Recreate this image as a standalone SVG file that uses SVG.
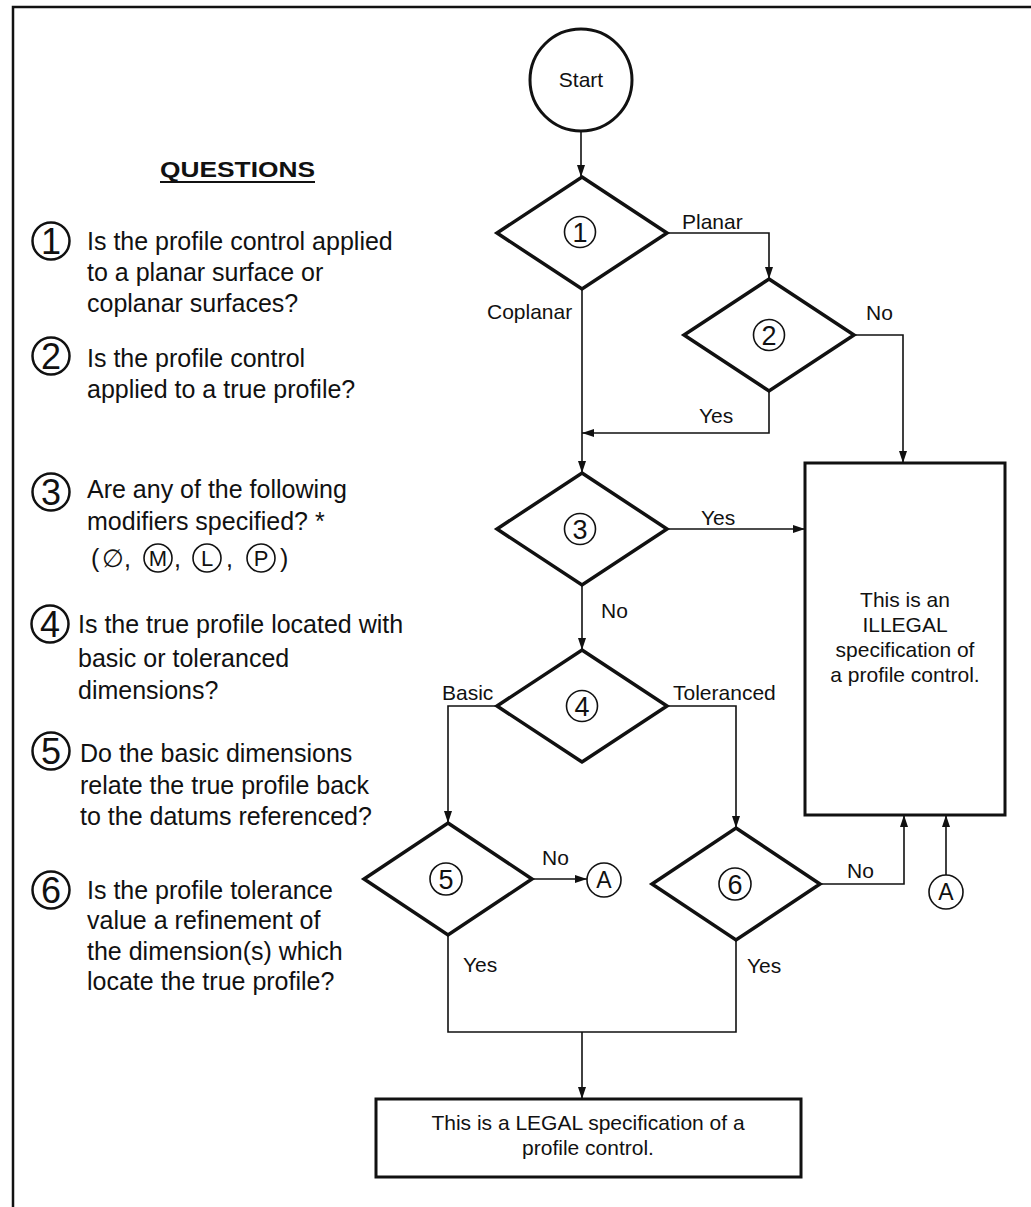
<svg xmlns="http://www.w3.org/2000/svg" width="1031" height="1207" viewBox="0 0 1031 1207">
<style>
text{font-family:"Liberation Sans",Arial,sans-serif;fill:#111}
.q{font-size:25px}
.lbl{font-size:21px}
.dg{font-size:36px;text-anchor:middle}
.sd{font-size:27px;text-anchor:middle}
.box{fill:#fff;stroke:#111;stroke-width:3}
.dia{fill:#fff;stroke:#111;stroke-width:3.5;stroke-linejoin:miter}
.qc{fill:none;stroke:#111;stroke-width:2.5}
.tc{fill:none;stroke:#111;stroke-width:1.6}
.con{fill:none;stroke:#111;stroke-width:1.6}
.mid{text-anchor:middle}
</style>
<defs>
<marker id="arr" viewBox="0 0 12 8" refX="12" refY="4" markerWidth="12" markerHeight="8" orient="auto" markerUnits="userSpaceOnUse">
<path d="M0,0 L12,4 L0,8 z" fill="#111"/>
</marker>
</defs>
<rect width="1031" height="1207" fill="#fff"/>
<g id="frame">
<path d="M13,1207 V7 H1031" fill="none" stroke="#111" stroke-width="2.5"/>
</g>
<g id="questions">
<text x="160" y="177" font-size="22" font-weight="bold" textLength="155" lengthAdjust="spacingAndGlyphs">QUESTIONS</text>
<line x1="160" y1="182" x2="315" y2="182" stroke="#111" stroke-width="2"/>
<g id="q1">
<circle class="qc" cx="51" cy="241" r="18.5"/><text class="dg" x="51" y="254">1</text>
<text class="q" x="87" y="250">Is the profile control applied</text>
<text class="q" x="87" y="281">to a planar surface or</text>
<text class="q" x="87" y="312">coplanar surfaces?</text>
</g>
<g id="q2">
<circle class="qc" cx="51" cy="356" r="18.5"/><text class="dg" x="51" y="369">2</text>
<text class="q" x="87" y="367">Is the profile control</text>
<text class="q" x="87" y="398">applied to a true profile?</text>
</g>
<g id="q3">
<circle class="qc" cx="51" cy="492" r="18.5"/><text class="dg" x="51" y="505">3</text>
<text class="q" x="87" y="498">Are any of the following</text>
<text class="q" x="87" y="530">modifiers specified? *</text>
<text class="q" x="91" y="567">(</text>
<text class="q" x="102" y="567">∅,</text>
<circle class="tc" cx="158" cy="558" r="14"/><text x="158" y="566" font-size="22" class="mid">M</text>
<text class="q" x="174" y="567">,</text>
<circle class="tc" cx="207" cy="558" r="14"/><text x="207" y="566" font-size="22" class="mid">L</text>
<text class="q" x="226" y="567">,</text>
<circle class="tc" cx="261" cy="558" r="14"/><text x="261" y="566" font-size="22" class="mid">P</text>
<text class="q" x="280" y="567">)</text>
</g>
<g id="q4">
<circle class="qc" cx="50" cy="624" r="18.5"/><text class="dg" x="50" y="637">4</text>
<text class="q" x="78" y="633">Is the true profile located with</text>
<text class="q" x="78" y="667">basic or toleranced</text>
<text class="q" x="78" y="699">dimensions?</text>
</g>
<g id="q5">
<circle class="qc" cx="51" cy="751" r="18.5"/><text class="dg" x="51" y="764">5</text>
<text class="q" x="80" y="762">Do the basic dimensions</text>
<text class="q" x="80" y="794">relate the true profile back</text>
<text class="q" x="80" y="825">to the datums referenced?</text>
</g>
<g id="q6">
<circle class="qc" cx="51" cy="890" r="18.5"/><text class="dg" x="51" y="903">6</text>
<text class="q" x="87" y="899">Is the profile tolerance</text>
<text class="q" x="87" y="929">value a refinement of</text>
<text class="q" x="87" y="960">the dimension(s) which</text>
<text class="q" x="87" y="990">locate the true profile?</text>
</g>
</g>
<g id="connectors">
<path class="con" d="M581,131 V177" marker-end="url(#arr)"/>
<path class="con" d="M667,233 H769 V279" marker-end="url(#arr)"/>
<path class="con" d="M854,335 H903 V463" marker-end="url(#arr)"/>
<path class="con" d="M769,391 V433 H582" marker-end="url(#arr)"/>
<path class="con" d="M582,289 V473" marker-end="url(#arr)"/>
<path class="con" d="M667,529 H805" marker-end="url(#arr)"/>
<path class="con" d="M582,585 V650" marker-end="url(#arr)"/>
<path class="con" d="M497,706 H448 V823" marker-end="url(#arr)"/>
<path class="con" d="M667,706 H736 V828" marker-end="url(#arr)"/>
<path class="con" d="M532,879 H587" marker-end="url(#arr)"/>
<path class="con" d="M820,884 H904 V815" marker-end="url(#arr)"/>
<path class="con" d="M946,875 V815" marker-end="url(#arr)"/>
<path class="con" d="M448,935 V1032 H736 V940"/>
<path class="con" d="M582,1032 V1099" marker-end="url(#arr)"/>
<text class="lbl" x="682" y="229">Planar</text>
<text class="lbl" x="487" y="319">Coplanar</text>
<text class="lbl" x="866" y="320">No</text>
<text class="lbl" x="699" y="423">Yes</text>
<text class="lbl" x="701" y="525">Yes</text>
<text class="lbl" x="601" y="618">No</text>
<text class="lbl" x="442" y="700">Basic</text>
<text class="lbl" x="673" y="700">Toleranced</text>
<text class="lbl" x="542" y="865">No</text>
<text class="lbl" x="463" y="972">Yes</text>
<text class="lbl" x="747" y="973">Yes</text>
<text class="lbl" x="847" y="878">No</text>
</g>
<g id="start">
<circle cx="581" cy="80" r="51" fill="#fff" stroke="#111" stroke-width="3"/>
<text class="lbl mid" x="581" y="87">Start</text>
</g>
<g id="d1">
<polygon class="dia" points="582,177 667,233 582,289 497,233"/>
<circle class="tc" cx="580" cy="232" r="15.5"/><text class="sd" x="580" y="242">1</text>
</g>
<g id="d2">
<polygon class="dia" points="769,279 854,335 769,391 684,335"/>
<circle class="tc" cx="769" cy="335" r="15.5"/><text class="sd" x="769" y="345">2</text>
</g>
<g id="d3">
<polygon class="dia" points="582,473 667,529 582,585 497,529"/>
<circle class="tc" cx="580" cy="529" r="15.5"/><text class="sd" x="580" y="539">3</text>
</g>
<g id="d4">
<polygon class="dia" points="582,650 667,706 582,762 497,706"/>
<circle class="tc" cx="582" cy="706" r="15.5"/><text class="sd" x="582" y="716">4</text>
</g>
<g id="d5">
<polygon class="dia" points="448,823 532,879 448,935 364,879"/>
<circle class="tc" cx="446" cy="879" r="16"/><text class="sd" x="446" y="889">5</text>
</g>
<g id="d6">
<polygon class="dia" points="736,828 820,884 736,940 652,884"/>
<circle class="tc" cx="735" cy="884" r="16"/><text class="sd" x="735" y="894">6</text>
</g>
<g id="a1">
<circle class="tc" cx="604" cy="880" r="17"/><text x="604" y="888" font-size="23" class="mid">A</text>
</g>
<g id="a2">
<circle class="tc" cx="946" cy="892" r="17"/><text x="946" y="900" font-size="23" class="mid">A</text>
</g>
<g id="illegal">
<rect class="box" x="805" y="463" width="200" height="352"/>
<text class="lbl mid" x="905" y="607">This is an</text>
<text class="lbl mid" x="905" y="632">ILLEGAL</text>
<text class="lbl mid" x="905" y="657">specification of</text>
<text class="lbl mid" x="905" y="682">a profile control.</text>
</g>
<g id="legal">
<rect class="box" x="376" y="1099" width="425" height="78"/>
<text class="lbl mid" x="588" y="1130">This is a LEGAL specification of a</text>
<text class="lbl mid" x="588" y="1155">profile control.</text>
</g>
</svg>
